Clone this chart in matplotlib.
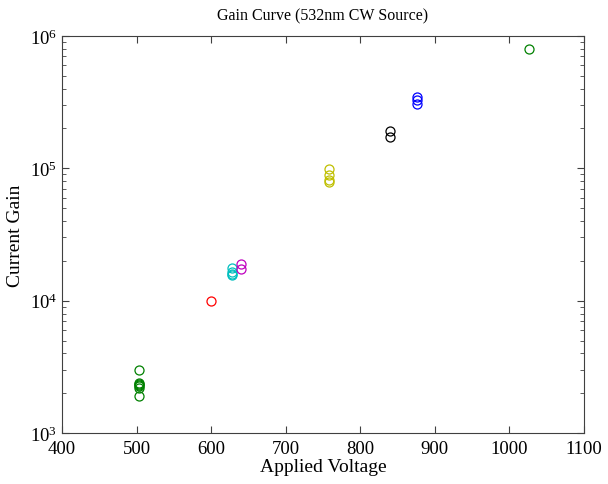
import matplotlib
matplotlib.use("Agg")
import matplotlib.pyplot as plt
from matplotlib.ticker import LogLocator, NullFormatter

plt.rcParams['font.family'] = ['Liberation Serif', 'DejaVu Serif']
plt.rcParams['mathtext.fontset'] = 'stix'

# voltage, gain for each run (matlab colour order)
v_green = [503, 503, 503, 503, 503, 503, 503]
g_green = [3000, 2400, 2350, 2300, 2250, 2200, 1900]
v_red = [600]
g_red = [10000]
v_cyan = [628, 628, 628, 628]
g_cyan = [17500, 16500, 16000, 15500]
v_mag = [640, 640]
g_mag = [18800, 17200]
v_yel = [758, 758, 758, 758]
g_yel = [99000, 89000, 82000, 79000]
v_blk = [840, 840]
g_blk = [190000, 172000]
v_blue = [877, 877, 877]
g_blue = [345000, 325000, 305000]
v_top = [1027]
g_top = [790000]

series = [
    (v_green, g_green, (0, 0.5, 0)),
    (v_red, g_red, (1, 0, 0)),
    (v_cyan, g_cyan, (0, 0.75, 0.75)),
    (v_mag, g_mag, (0.75, 0, 0.75)),
    (v_yel, g_yel, (0.75, 0.75, 0)),
    (v_blk, g_blk, (0, 0, 0)),
    (v_blue, g_blue, (0, 0, 1)),
    (v_top, g_top, (0, 0.5, 0)),
]

fig = plt.figure(figsize=(6.08, 4.85), dpi=100)
ax = fig.add_axes([0.102, 0.105, 0.858, 0.819])

for v, g, c in series:
    ax.plot(v, g, 'o', mfc='none', mec=c, ms=6.5, mew=0.9)

ax.set_yscale('log')
ax.set_xlim(400, 1100)
ax.set_ylim(1e3, 1e6)
ax.yaxis.set_minor_locator(LogLocator(base=10, subs=range(2, 10)))
ax.yaxis.set_minor_formatter(NullFormatter())
for s in ax.spines.values():
    s.set_color('0.25')
ax.tick_params(which='both', direction='in', top=True, right=True,
               labelsize=13.5, color='0.25')
ax.tick_params(axis='x', pad=5)
ax.tick_params(which='major', length=5)
ax.tick_params(which='minor', length=3)

ax.set_xlabel('Applied Voltage', fontsize=14, labelpad=1)
ax.set_ylabel('Current Gain', fontsize=14, labelpad=4)
ax.set_title('Gain Curve (532nm CW Source)', fontsize=11.5, pad=12)

fig.savefig('out.png', dpi=100)
